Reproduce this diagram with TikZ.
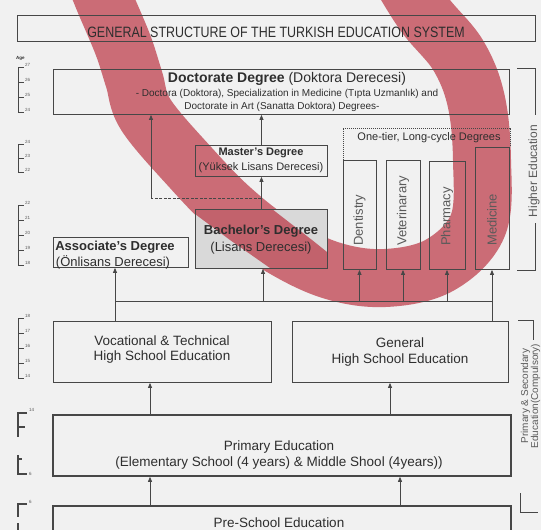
\documentclass[tikz,border=0pt]{standalone}
\usepackage{fontspec}
\usepackage{graphicx}
\setmainfont{Liberation Sans}
\usetikzlibrary{arrows.meta}
\definecolor{bgc}{HTML}{F1F1F1}
\definecolor{lnc}{HTML}{474747}
\definecolor{txc}{HTML}{2E2E2E}
\definecolor{rtc}{HTML}{5A5A5A}
\definecolor{bandc}{HTML}{CB6C76}
\definecolor{bandd}{HTML}{C2626C}
\definecolor{bfc}{HTML}{D9D9D9}
\newcommand\myfs[1]{\fontsize{#1}{#1}\selectfont}
\begin{document}
\begin{tikzpicture}[x=1pt,y=-1pt,
  box/.style={draw=lnc, line width=0.9pt, inner sep=0, anchor=north west},
  thickbox/.style={box, line width=1.8pt},
  txt/.style={inner sep=0, text=txc},
  arr/.style={draw=lnc, line width=0.8pt, -{Triangle[length=5pt,width=4pt]}},
  ln/.style={draw=lnc, line width=0.8pt},
  dashln/.style={draw=lnc, line width=0.8pt, dash pattern=on 3pt off 1.5pt},
  dotln/.style={draw=lnc, line width=0.8pt, dash pattern=on 1pt off 1pt},
  tick/.style={draw=lnc, line width=0.7pt},
  agel/.style={inner sep=0, text=rtc, font=\myfs{4.5}, anchor=west},
  vlab/.style={inner sep=0, text=rtc, font=\myfs{13}, rotate=90, anchor=west}]

\fill[bgc] (0,0) rectangle (541,530);
\useasboundingbox (0,0) rectangle (541,530);

% red band drawn as one thick stroke
\begin{scope}
\clip (0,0) rectangle (541,530);
\draw[bandc, line width=58pt, line join=round] plot[smooth, tension=0.6] coordinates {(92,-30) (104,0) (123,45) (134,79) (146,115) (191,168) (231,209) (275,243) (330,270) (385,278) (440,265) (478,225) (482,160) (476,100) (458,55) (425,15) (400,-25)};
\end{scope}

% title
\node[box, minimum width=518pt, minimum height=26pt] (title) at (17,15) {};
\node[txt, font=\myfs{15}] (titletxt) at (276,32) {\scalebox{0.83}[1]{GENERAL STRUCTURE OF THE TURKISH EDUCATION SYSTEM}};

% doctorate
\node[box, minimum width=456pt, minimum height=45pt] (doc) at (53,69) {};
\node[txt, font=\myfs{14}] (doc1) at (287,79) {\textbf{Doctorate Degree} (Doktora Derecesi)};
\node[txt, font=\myfs{10}] (doc2) at (287,94) {- Doctora (Doktora), Specialization in Medicine (Tıpta Uzmanlık) and};
\node[txt, font=\myfs{10}] (doc3) at (282,107) {Doctorate in Art (Sanatta Doktora) Degrees-};

% master
\node[box, minimum width=132pt, minimum height=31pt] (mast) at (195,145) {};
\node[txt, font=\myfs{11}] (mast1) at (261,153) {\textbf{Master's Degree}};
\node[txt, font=\myfs{11}] (mast2) at (261,168) {(Yüksek Lisans Derecesi)};

% bachelor: gray fill, then the band crossing it
\node[box, fill=bfc, minimum width=132pt, minimum height=59pt] (bach) at (195,209) {};
\fill[bandd] (195,209) -- (272,209) -- (312,240) -- (327,252) -- (327,268) -- (270,268) -- (230,240) -- (195,214) -- cycle;
\draw[lnc, line width=0.9pt] (bach.north west) rectangle (bach.south east);
\node[txt, font=\myfs{13}] (bach1) at (261,231) {\textbf{Bachelor's Degree}};
\node[txt, font=\myfs{13}] (bach2) at (261,248) {(Lisans Derecesi)};

% associate
\node[box, minimum width=135pt, minimum height=30pt] (assoc) at (53,237) {};
\node[txt, font=\myfs{13}] (assoc1) at (115,247) {\textbf{Associate's Degree}};
\node[txt, font=\myfs{13}] (assoc2) at (113,262) {(Önlisans Derecesi)};

% long cycle
\node[box, minimum width=33pt, minimum height=109pt] (dent) at (343,160) {};
\node[box, minimum width=34pt, minimum height=109pt] (vet) at (386,160) {};
\node[box, minimum width=36pt, minimum height=108pt] (pharm) at (429,161) {};
\node[box, minimum width=34pt, minimum height=122pt] (med) at (475,147) {};
\node[vlab] (dentt) at (359.5,246) {Dentistry};
\node[vlab] (vett) at (403,246) {Veterinarary};
\node[vlab] (pharmt) at (447,246) {Pharmacy};
\node[vlab] (medt) at (492,246) {Medicine};
\coordinate (ot) at (342,128);
\draw[dotln] (dent.north west) -- (dent.north west |- ot) -| (med.north east);
\node[txt, font=\myfs{11}] (ottxt) at (429,138) {One-tier, Long-cycle Degrees};

% high schools
\node[box, minimum width=218pt, minimum height=61pt] (voc) at (53,321) {};
\node[txt, font=\myfs{13.5}] (voc1) at (162,341) {Vocational \& Technical};
\node[txt, font=\myfs{13.5}] (voc2) at (162,357) {High School Education};
\node[box, minimum width=216pt, minimum height=61pt] (gen) at (292,321) {};
\node[txt, font=\myfs{13.5}] (gen1) at (400,343) {General};
\node[txt, font=\myfs{13.5}] (gen2) at (400,360) {High School Education};

% primary / preschool
\node[thickbox, minimum width=458pt, minimum height=61pt] (prim) at (52,414) {};
\node[txt, font=\myfs{13.5}] (prim1) at (279,447) {Primary Education};
\node[txt, font=\myfs{13.5}] (prim2) at (279,463) {(Elementary School (4 years) \& Middle Shool (4years))};
\node[thickbox, minimum width=458pt, minimum height=40pt] (pre) at (52,505) {};
\node[txt, font=\myfs{13.5}] (pre1) at (279,523) {Pre-School Education};

% connectors
\coordinate (bA) at (115,301);
\coordinate (bB) at (263,301);
\coordinate (bC) at (359.5,301);
\coordinate (bD) at (403,301);
\coordinate (bE) at (447,301);
\coordinate (bF) at (492,301);
\draw[ln] (voc.north -| bA) -- (bA) -- (bF) -- (gen.north -| bF);
\draw[arr] (bA) -- (bA |- assoc.south);
\draw[arr] (bB) -- (bB |- bach.south);
\draw[arr] (bC) -- (bC |- dent.south);
\draw[arr] (bD) -- (bD |- vet.south);
\draw[arr] (bE) -- (bE |- pharm.south);
\draw[arr] (bF) -- (bF |- med.south);

\draw[arr] (bach.north) -- (mast.south);
\draw[arr] (mast.north) -- (mast.north |- doc.south);
\coordinate (dj) at (261,198);
\coordinate (dl) at (151,198);
\draw[dashln] (dj) -- (dl);
\draw[arr] (dl) -- (dl |- doc.south);

\coordinate (xa) at (150,0);
\coordinate (xb) at (390,0);
\coordinate (xc) at (400,0);
\draw[arr] (prim.north -| xa) -- (voc.south -| xa);
\draw[arr] (prim.north -| xb) -- (gen.south -| xb);
\draw[arr] (pre.north -| xa) -- (prim.south -| xa);
\draw[arr] (pre.north -| xc) -- (prim.south -| xc);

% right brackets
\draw[ln, line width=1pt] (517,68) -- (535,68) -- (535,115);
\draw[ln, line width=1pt] (535,223) -- (535,270) -- (517,270);
\node[inner sep=0, text=rtc, font=\myfs{12}, rotate=90] (higher) at (534,171) {Higher Education};
\draw[ln] (518,320) -- (533,320) -- (533,340);
\draw[ln] (520,493) -- (520,512) -- (538,512);
\node[inner sep=0, text=rtc, font=\myfs{10}, rotate=90, align=center] (primsec) at (530.5,396) {Primary \& Secondary\\Education(Compulsory)};

% age scale
\node[inner sep=0, text=txc, font=\bfseries\myfs{4.5}, anchor=west] (agehead) at (16,58) {Age};
\draw[tick] (18,67) -- (18,112);
\foreach \y/\l in {67/27,82/26,97/25,112/24}{
  \draw[tick] (18,\y) -- (24,\y);
  \node[agel] (ag\l a) at (25,\y-2) {\l};}
\draw[tick] (18,144) -- (18,172);
\foreach \y/\l in {144/24,158/23,172/22}{
  \draw[tick] (18,\y) -- (24,\y);
  \node[agel] (ag\l b) at (25,\y-2) {\l};}
\draw[tick] (18,205) -- (18,265);
\foreach \y/\l in {205/22,220/21,235/20,250/19,265/18}{
  \draw[tick] (18,\y) -- (24,\y);
  \node[agel] (ag\l c) at (25,\y-2) {\l};}
\draw[tick] (18,318) -- (18,378);
\foreach \y/\l in {318/18,333/17,348/16,363/15,378/14}{
  \draw[tick] (18,\y) -- (24,\y);
  \node[agel] (ag\l d) at (25,\y-2) {\l};}
\draw[tick, line width=1.1pt] (27,413) -- (18,413) -- (18,437);
\draw[tick, line width=1.1pt] (18,427) -- (25,427);
\draw[tick, line width=1.1pt] (18,455) -- (18,474) -- (27,474);
\draw[tick, line width=1.1pt] (18,459) -- (22,459);
\node[agel] (ag14e) at (29,410) {14};
\node[agel] (ag6e) at (29,474) {6};
\draw[tick, line width=1.1pt] (27,504) -- (18,504) -- (18,517);
\draw[tick, line width=1.1pt] (18,523) -- (18,532);
\node[agel] (ag6f) at (29,502) {6};
\end{tikzpicture}
\end{document}
